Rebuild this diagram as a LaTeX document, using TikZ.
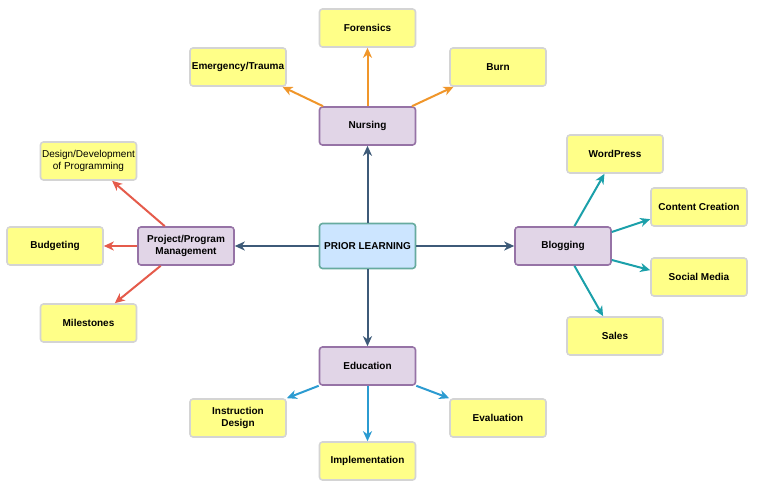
\documentclass[tikz,border=0pt]{standalone}
\usepackage{fontspec}
\setmainfont{Liberation Sans}
\usetikzlibrary{arrows.meta}
\definecolor{leafFill}{HTML}{FFFF88}
\definecolor{leafLine}{HTML}{D4D4D4}
\definecolor{topicFill}{HTML}{E1D5E7}
\definecolor{topicLine}{HTML}{9673A6}
\definecolor{hubFill}{HTML}{CCE5FF}
\definecolor{hubLine}{HTML}{67AB9F}
\definecolor{hubArrow}{HTML}{3D5A78}
\definecolor{nurseArrow}{HTML}{F0962A}
\definecolor{projArrow}{HTML}{E55B4B}
\definecolor{blogArrow}{HTML}{1BA0AA}
\definecolor{eduArrow}{HTML}{2B9BD1}

\begin{document}
\begin{tikzpicture}[x=1pt,y=-1pt,
    box/.style={rectangle,rounded corners=3pt,line width=1.6pt,align=center,
      inner sep=1pt,font=\fontsize{10}{12}\selectfont\bfseries},
    leaf/.style={box,fill=leafFill,draw=leafLine,minimum width=96pt,minimum height=38pt},
    topic/.style={box,fill=topicFill,draw=topicLine,minimum width=96pt,minimum height=38pt},
    hub/.style={box,fill=hubFill,draw=hubLine,minimum width=96pt,minimum height=45pt},
    link/.style={line width=2pt,-{Stealth[length=10pt,width=9pt,inset=3pt]}}]
    \path[fill=white] (0,0) rectangle (757,492);
    % centre and topics
    \node[hub]   (prior)   at (367.5,246) {PRIOR LEARNING};
    \node[topic] (nursing) at (367.5,126) {Nursing};
    \node[topic] (project) at (186,246)   {Project/Program\\Management};
    \node[topic] (blog)    at (563,246)   {Blogging};
    \node[topic] (edu)     at (367.5,366) {Education};
    % nursing
    \node[leaf] (forensic) at (367.5,28) {Forensics};
    \node[leaf] (trauma)   at (238,67)  {Emergency/Trauma};
    \node[leaf] (burn)     at (498,67)  {Burn};
    % project
    \node[leaf,font=\fontsize{10}{12}\selectfont] (design) at (88.5,161) {Design/Development\\of Programming};
    \node[leaf] (budget)    at (55,246)  {Budgeting};
    \node[leaf] (milestone) at (88.5,323) {Milestones};
    % blogging
    \node[leaf] (wordpress) at (615,154) {WordPress};
    \node[leaf] (content)   at (699,207) {Content Creation};
    \node[leaf] (social)    at (699,277) {Social Media};
    \node[leaf] (sales)     at (615,336) {Sales};
    % education
    \node[leaf] (instruct)  at (238,418)   {Instruction\\Design};
    \node[leaf] (evaluate)  at (498,418)   {Evaluation};
    \node[leaf] (implement) at (367.5,461) {Implementation};

    \draw[link,hubArrow] (prior.north) -- (nursing.south);
    \draw[link,hubArrow] (prior.west)  -- (project.east);
    \draw[link,hubArrow] (prior.east)  -- (blog.west);
    \draw[link,hubArrow] (prior.south) -- (edu.north);

    \draw[link,nurseArrow] (nursing.north) -- (forensic.south);
    \draw[link,nurseArrow] (nursing.156)   -- (trauma.-24);
    \draw[link,nurseArrow] (nursing.24)    -- (burn.204);

    \draw[link,projArrow] (project.137) -- (design.-40);
    \draw[link,projArrow] (project.west) -- (budget.east);
    \draw[link,projArrow] (project.218) -- (milestone.37);

    \draw[link,blogArrow] (blog.60)  -- (wordpress.242);
    \draw[link,blogArrow] (blog.16)  -- (content.194);
    \draw[link,blogArrow] (blog.-16) -- (social.172);
    \draw[link,blogArrow] (blog.-60) -- (sales.121);

    \draw[link,eduArrow] (edu.south west) -- (instruct.north east);
    \draw[link,eduArrow] (edu.south)      -- (implement.north);
    \draw[link,eduArrow] (edu.south east) -- (evaluate.north west);
\end{tikzpicture}
\end{document}
